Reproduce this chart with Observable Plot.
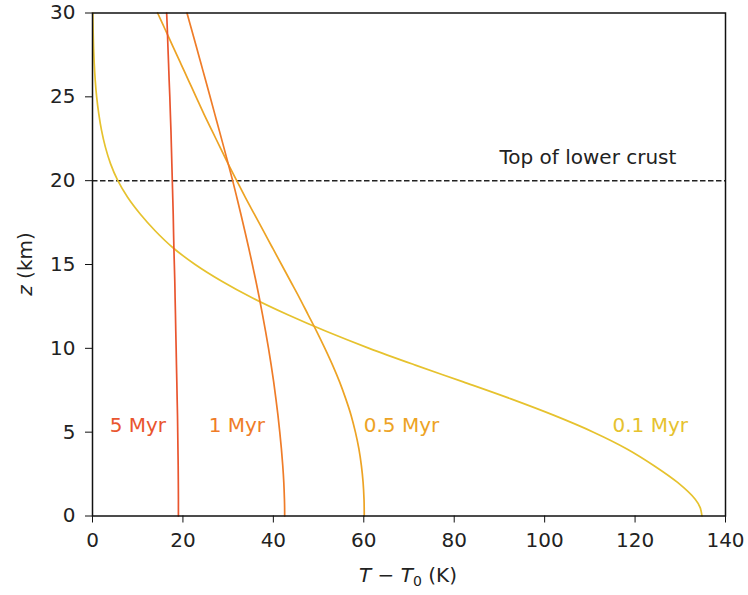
<!DOCTYPE html>
<html>
<head>
<meta charset="utf-8">
<script src="https://cdn.jsdelivr.net/npm/d3@7"></script>
<script src="https://cdn.jsdelivr.net/npm/@observablehq/plot@0.6"></script>
<style>
  html, body { margin: 0; padding: 0; background: #fff; }
  #chart { width: 748px; height: 595px; }
</style>
</head>
<body>
<div id="chart"></div>
<script>
// Depth (km) grid shared by all profiles
const depthKm = [0,0.5,1,2,3,4,5,6,7,8,9,10,11,12,13,14,15,16,17,18,19,20,21,22,23,24,25,26,27,28,29,30];

// Temperature excess T - T0 (K), one value per depth
const temp01Myr = [134.8,134.4,133.3,129.4,124.2,118.2,110.8,102.1,92.4,82.0,71.4,61.2,51.8,43.2,35.4,28.6,22.7,17.8,13.9,10.6,7.8,5.6,4.0,2.85,2.0,1.38,0.92,0.6,0.38,0.23,0.13,0.07];
const temp05Myr = [60.1,60.09,60.05,59.85,59.47,58.92,58.15,57.2,56.0,54.65,53.1,51.4,49.6,47.7,45.8,43.8,41.8,39.8,37.8,35.8,33.8,31.9,30.0,28.2,26.4,24.6,22.9,21.2,19.5,17.8,16.1,14.4];
const temp1Myr  = [42.5,42.49,42.45,42.31,42.08,41.78,41.42,41.02,40.56,40.07,39.52,38.93,38.29,37.61,36.9,36.15,35.36,34.54,33.69,32.82,31.92,31.0,30.02,29.03,28.03,27.02,26.01,25.0,23.98,22.96,21.93,20.9];
const temp5Myr  = [19.0,19.0,19.0,18.98,18.95,18.9,18.85,18.8,18.72,18.65,18.57,18.5,18.42,18.35,18.27,18.2,18.1,18.0,17.92,17.85,17.75,17.65,17.55,17.45,17.35,17.22,17.1,16.95,16.82,16.68,16.55,16.4];

const seriesNames = ["0.1 Myr", "0.5 Myr", "1 Myr", "5 Myr"];
const seriesColors = ["#e6c22e", "#eda324", "#ef7c28", "#e9552e"];
const seriesTemps = [temp01Myr, temp05Myr, temp1Myr, temp5Myr];

// label anchor positions (data coords)
const labelX = [115, 60, 25.7, 3.8];
const labelZ = [5, 5, 5, 5];

const xTicks = [0, 20, 40, 60, 80, 100, 120, 140];
const yTicks = [0, 5, 10, 15, 20, 25, 30];
const crustDepth = 20;
const crustLabel = "Top of lower crust";

const rows = [];
seriesNames.forEach((name, i) => {
  depthKm.forEach((z, j) => rows.push({ series: name, z, T: seriesTemps[i][j] }));
});
const labels = seriesNames.map((name, i) => ({ series: name, x: labelX[i], z: labelZ[i] }));

const FONT = "DejaVu Sans, sans-serif";
const FS = 20;

const plot = Plot.plot({
  width: 748,
  height: 595,
  marginLeft: 92,
  marginRight: 23,
  marginTop: 12.5,
  marginBottom: 79.5,
  style: { fontFamily: FONT, fontSize: FS + "px", background: "white", color: "#222" },
  x: { domain: [0, 140], label: null },
  y: { domain: [0, 30], label: null },
  color: { domain: seriesNames, range: seriesColors },
  marks: [
    Plot.ruleY([crustDepth], { stroke: "#222", strokeWidth: 1.5, strokeDasharray: "5.5,2.5" }),
    Plot.line(rows, { x: "T", y: "z", z: "series", stroke: "series", strokeWidth: 1.7, curve: "catmull-rom" }),
    Plot.text(labels, { x: "x", y: "z", text: "series", fill: "series", textAnchor: "start", dy: -6.4, fontSize: FS }),
    Plot.text([crustLabel], { x: 90, y: 21, text: d => d, textAnchor: "start", dy: -6.4, fill: "#222", fontSize: FS }),
    Plot.frame({ stroke: "#111", strokeWidth: 1.5 }),
    Plot.axisX({ ticks: xTicks, tickSize: 7, tickPadding: 10, tickFormat: d => String(d), label: null, stroke: "#111" }),
    Plot.axisY({ ticks: yTicks, tickSize: 7, tickPadding: 10, tickFormat: d => String(d), label: null, stroke: "#111" })
  ]
});

document.getElementById("chart").appendChild(plot);

// axis titles with italic symbols and subscript
const svg = d3.select(plot);
const xt = svg.append("text")
  .attr("x", 408).attr("y", 582)
  .attr("text-anchor", "middle")
  .attr("font-family", FONT).attr("font-size", FS).attr("fill", "#222");
xt.append("tspan").attr("font-style", "italic").text("T");
xt.append("tspan").text(" \u2212 ");
xt.append("tspan").attr("font-style", "italic").text("T");
xt.append("tspan").attr("font-size", 14).attr("dy", 4).text("0");
xt.append("tspan").attr("dy", -4).text(" (K)");

const yt = svg.append("text")
  .attr("transform", "translate(32,264) rotate(-90)")
  .attr("text-anchor", "middle")
  .attr("font-family", FONT).attr("font-size", FS).attr("fill", "#222");
yt.append("tspan").attr("font-style", "italic").text("z");
yt.append("tspan").text(" (km)");
</script>
</body>
</html>
